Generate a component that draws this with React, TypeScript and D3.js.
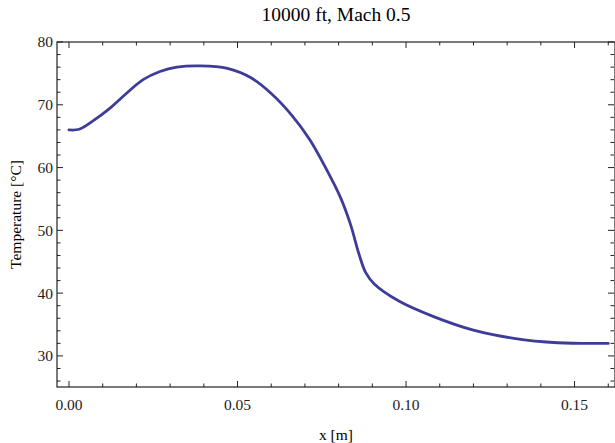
import React from 'react'
import * as d3 from 'd3'

// temperature along the wall
const xPos = [0, 0.003, 0.007, 0.012, 0.017, 0.022, 0.027, 0.032, 0.039, 0.047, 0.054, 0.06, 0.066, 0.0715, 0.0765, 0.0805, 0.0835, 0.086, 0.088, 0.0905, 0.098, 0.108, 0.12, 0.132, 0.145, 0.16]
const temp = [66.0, 66.1, 67.4, 69.4, 71.8, 74.0, 75.3, 76.0, 76.2, 75.8, 74.3, 71.8, 68.4, 64.4, 59.6, 55.3, 51.0, 46.3, 43.3, 41.5, 38.7, 36.3, 34.1, 32.8, 32.1, 32.0]

const xTicks = [0, 0.05, 0.1, 0.15]
const yTicks = [30, 40, 50, 60, 70, 80]
const xMinor = d3.range(0, 17).map((i) => i / 100)
const yMinor = d3.range(26, 81, 2)

const title = '10000 ft, Mach 0.5'
const xLabel = 'x [m]'
const yLabel = 'Temperature [°C]'

export default function App() {
    const width = 615
    const height = 443
    const left = 57
    const right = 615
    const top = 42
    const bottom = 387
    const font = '"Liberation Serif", "Times New Roman", serif'

    const x = d3.scaleLinear().domain([-0.00356, 0.162]).range([left, right])
    const y = d3.scaleLinear().domain([25.05, 80]).range([bottom, top])

    const line = d3
        .line<number>()
        .x((d, i) => x(xPos[i]))
        .y((d) => y(d))
        .curve(d3.curveCatmullRom.alpha(0.5))

    const major = 6
    const minor = 3.5

    return (
        <svg width={width} height={height} style={{ position: 'absolute', left: 0, top: 0 }}>
            <rect width={width} height={height} fill="white" />
            <text x={(left + right) / 2} y={21} textAnchor="middle" fontFamily={font} fontSize={19.5}>
                {title}
            </text>

            {/* ticks on all four sides, pointing inward */}
            <g stroke="#222" strokeWidth={1}>
                {xMinor.map((t) => {
                    const big = xTicks.some((v) => Math.abs(v - t) < 1e-9)
                    const len = big ? major : minor
                    return (
                        <g key={'x' + t}>
                            <line x1={x(t)} x2={x(t)} y1={bottom} y2={bottom - len} />
                            <line x1={x(t)} x2={x(t)} y1={top} y2={top + len} />
                        </g>
                    )
                })}
                {yMinor.map((t) => {
                    const big = t % 10 === 0
                    const len = big ? major : minor
                    return (
                        <g key={'y' + t}>
                            <line x1={left} x2={left + len} y1={y(t)} y2={y(t)} />
                            <line x1={right - 1} x2={right - 1 - len} y1={y(t)} y2={y(t)} />
                        </g>
                    )
                })}
            </g>

            <rect x={left} y={top} width={right - left} height={bottom - top} fill="none" stroke="#222" strokeWidth={1.2} />

            <path d={line(temp) || ''} fill="none" stroke="#3d3d99" strokeWidth={2.8} strokeLinecap="round" strokeLinejoin="round" />

            <g fontFamily={font} fontSize={15.5} fill="#222">
                {xTicks.map((t) => (
                    <text key={t} x={x(t)} y={410} textAnchor="middle">
                        {d3.format('.2f')(t)}
                    </text>
                ))}
                {yTicks.map((t) => (
                    <text key={t} x={53} y={y(t)} dy="0.35em" textAnchor="end">
                        {t}
                    </text>
                ))}
            </g>

            <text x={(left + right) / 2} y={440} textAnchor="middle" fontFamily={font} fontSize={15.5}>
                {xLabel}
            </text>
            <text
                transform={`translate(21, ${(top + bottom) / 2}) rotate(-90)`}
                textAnchor="middle"
                fontFamily={font}
                fontSize={15.5}
            >
                {yLabel}
            </text>
        </svg>
    )
}
